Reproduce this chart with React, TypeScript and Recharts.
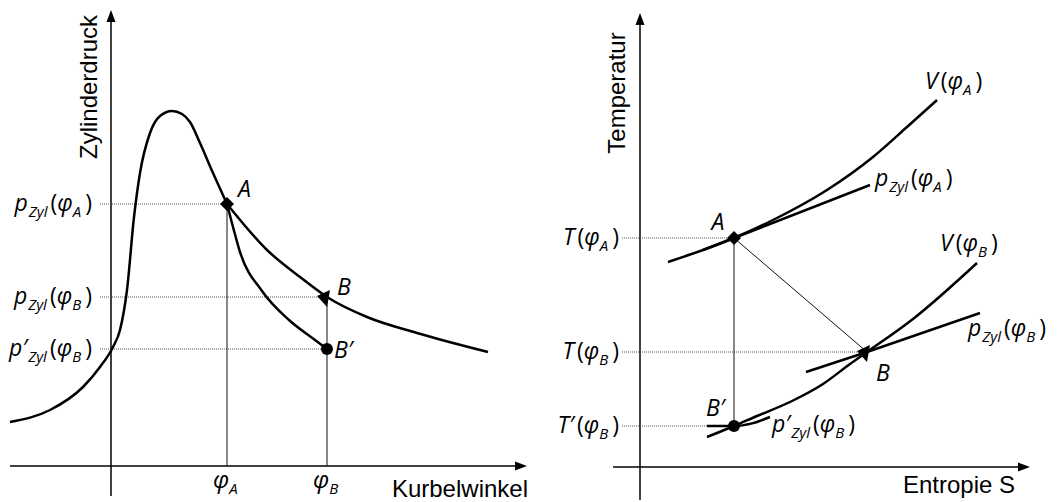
import React from "react";
import { ComposedChart, Line, XAxis, YAxis, ReferenceLine, ReferenceDot } from "recharts";

// Linkes Diagramm: Zylinderdruck über Kurbelwinkel (°KW / bar, schematisch)
const phiA = 29;
const phiB = 54;
const pA = 65.5;
const pB = 42.25;
const pB2 = 29.25;

// Verdichtung + Verbrennung bis Punkt A
const druckBisA: [number, number][] = [
  [-25.25, 11], [-15.25, 14], [-7, 19.75], [-2.75, 24.75], [0.5, 29.75], [2.25, 34],
  [4, 44], [5.75, 62.25], [7.25, 73.25], [9.75, 83.25], [12.25, 87.5], [15.25, 88.75],
  [17.75, 88], [19.75, 86], [22.25, 80.75], [25.5, 73.25], [phiA, pA],
];
// reale Expansion A -> B
const expansionAB: [number, number][] = [
  [phiA, pA], [39, 54], [47.25, 47.25], [phiB, pB], [64, 37.25], [76.5, 33.25], [94.25, 28.5],
];
// isentrope Expansion A -> B'
const isentropeAB2: [number, number][] = [
  [phiA, pA], [30.5, 59.75], [32.25, 53.5], [37.75, 43.75], [44.5, 36.5], [51, 31.5], [phiB, pB2],
];

// Rechtes Diagramm: T-S-Diagramm (schematisch)
const sA = 23.5, tA = 57.25;
const sB = 56.75, tB = 28.75;
const sB2 = 23.5, tB2 = 10.25;

const isochoreA: [number, number][] = [
  [7, 51.25], [15.75, 54.25], [sA, tA], [33.25, 61.75], [46.75, 69.25], [58.25, 77.5], [66.75, 85], [74.25, 91.75],
];
const isobareA: [number, number][] = [[15.75, 54.25], [sA, tA], [57.5, 70.5]];
const isochoreB: [number, number][] = [
  [16.75, 7.5], [sB2, tB2], [29.25, 12.75], [37.5, 16.25], [45.75, 20.75], [52.5, 25.75], [sB, tB], [68.25, 37], [84.25, 51],
];
const isobareB: [number, number][] = [[41.5, 23.75], [sB, tB], [85, 38.5]];
const isobareB2: [number, number][] = [[16.75, 10.25], [sB2, tB2], [28, 10.9], [32.5, 12.5]];

const pts = (arr: [number, number][]) => arr.map(([x, y]) => ({ x, y }));

const MATH = "'Open Sans', 'DejaVu Sans', sans-serif";
const PLAIN = "'Liberation Sans', Arial, sans-serif";

type Seg = { t: string; dx?: number; dy?: number; size?: number; upright?: boolean };

// Formelzeichen wie p_Zyl(φ_A), T(φ_B), V(φ_A)
function Sym(props: { x: number; y: number; head: string; idx: string; sub?: string; prime?: boolean; anchor?: "start" | "end" }) {
  const { x, y, head, idx, sub, prime, anchor = "start" } = props;
  const segs: Seg[] = [{ t: head }];
  if (prime) segs.push({ t: "\u2032", dx: 0 });
  if (sub) segs.push({ t: sub, size: 15, dx: 1, dy: 6 });
  segs.push({ t: "(", upright: true, dx: 3, dy: sub ? -6 : 0 });
  segs.push({ t: "\u03c6" });
  segs.push({ t: idx, size: 15, dy: 6 });
  segs.push({ t: ")", upright: true, dx: 4, dy: -6 });
  return (
    <text x={x} y={y} textAnchor={anchor} fontFamily={MATH} fontSize={23} fontStyle="italic" fill="#000">
      {segs.map((s, i) => (
        <tspan key={i} dx={s.dx} dy={s.dy} fontSize={s.size} fontStyle={s.upright ? "normal" : "italic"}>
          {s.t}
        </tspan>
      ))}
    </text>
  );
}

function Letter(props: { x: number; y: number; t: string; anchor?: "start" | "middle" }) {
  return (
    <text x={props.x} y={props.y} textAnchor={props.anchor ?? "start"} fontFamily={MATH} fontSize={23} fontStyle="italic" fill="#000">
      {props.t}
    </text>
  );
}

function Title(props: { x: number; y: number; t: string; rotate?: boolean; anchor?: "start" | "middle" | "end" }) {
  return (
    <text
      x={props.x}
      y={props.y}
      textAnchor={props.anchor ?? "middle"}
      transform={props.rotate ? `rotate(-90 ${props.x} ${props.y})` : undefined}
      fontFamily={PLAIN}
      fontSize={24}
      fill="#000"
    >
      {props.t}
    </text>
  );
}

// Anker an einer Datenkoordinate, gezeichnet wird relativ zur Pixelposition
const pin = (key: string, x: number, y: number, draw: (cx: number, cy: number) => React.ReactElement) => (
  <ReferenceDot key={key} x={x} y={y} r={0} ifOverflow="visible" shape={(p: any) => draw(p.cx, p.cy)} />
);

const arrowRight = (cx: number, cy: number) => (
  <polygon points={`${cx},${cy} ${cx - 12},${cy - 4.5} ${cx - 12},${cy + 4.5}`} fill="#000" />
);
const arrowUp = (cx: number, cy: number) => (
  <polygon points={`${cx},${cy} ${cx - 4.5},${cy + 12} ${cx + 4.5},${cy + 12}`} fill="#000" />
);
const diamond = (cx: number, cy: number) => (
  <polygon points={`${cx},${cy - 7} ${cx + 7},${cy} ${cx},${cy + 7} ${cx - 7},${cy}`} fill="#000" />
);
const triangle = (cx: number, cy: number) => (
  <polygon points={`${cx - 10},${cy - 1} ${cx + 3},${cy - 7} ${cx},${cy + 10}`} fill="#000" />
);
const dot = (cx: number, cy: number) => <circle cx={cx} cy={cy} r={6} fill="#000" />;

const curve = { stroke: "#000", strokeWidth: 2.5, dot: false, activeDot: false, isAnimationActive: false } as const;
const axisLine = { stroke: "#000", strokeWidth: 1.5, ifOverflow: "visible" } as const;
const thin = { stroke: "#111", strokeWidth: 1, ifOverflow: "visible" } as const;
const dotted = { stroke: "#555", strokeWidth: 1, strokeDasharray: "1 1", ifOverflow: "visible" } as const;
const margin = { top: 0, right: 0, bottom: 0, left: 0 };

function DruckVerlauf() {
  return (
    <ComposedChart width={532} height={502} margin={margin}>
      <XAxis type="number" dataKey="x" domain={[-27.75, 105.25]} hide allowDataOverflow />
      <YAxis type="number" dataKey="y" domain={[-9, 116.5]} hide allowDataOverflow />

      <ReferenceLine segment={[{ x: -25.25, y: 0 }, { x: 103, y: 0 }]} {...axisLine} />
      <ReferenceLine segment={[{ x: 0, y: -7.5 }, { x: 0, y: 112 }]} {...axisLine} />

      <ReferenceLine segment={[{ x: -2.75, y: pA }, { x: phiA, y: pA }]} {...dotted} />
      <ReferenceLine segment={[{ x: -2.75, y: pB }, { x: phiB, y: pB }]} {...dotted} />
      <ReferenceLine segment={[{ x: -2.75, y: pB2 }, { x: phiB, y: pB2 }]} {...dotted} />
      <ReferenceLine segment={[{ x: phiA, y: pA }, { x: phiA, y: 0 }]} {...thin} />
      <ReferenceLine segment={[{ x: phiB, y: pB }, { x: phiB, y: 0 }]} {...thin} />

      <Line data={pts(druckBisA)} dataKey="y" type="monotone" {...curve} />
      <Line data={pts(expansionAB)} dataKey="y" type="monotone" {...curve} />
      <Line data={pts(isentropeAB2)} dataKey="y" type="monotone" {...curve} />

      {pin("ax", 104, 0, arrowRight)}
      {pin("ay", 0, 114, arrowUp)}
      {pin("mA", phiA, pA, diamond)}
      {pin("mB", phiB, pB, triangle)}
      {pin("mB2", phiB, pB2, dot)}

      {pin("lA", phiA, pA, (cx, cy) => <Letter x={cx + 11} y={cy - 7} t="A" />)}
      {pin("lB", phiB, pB, (cx, cy) => <Letter x={cx + 10} y={cy - 2} t="B" />)}
      {pin("lB2", phiB, pB2, (cx, cy) => <Letter x={cx + 7} y={cy + 9} t={"B\u2032"} />)}

      {pin("tA", -4.75, pA, (cx, cy) => <Sym x={cx} y={cy + 7} head="p" sub="Zyl" idx="A" anchor="end" />)}
      {pin("tB", -4.75, pB, (cx, cy) => <Sym x={cx} y={cy + 7} head="p" sub="Zyl" idx="B" anchor="end" />)}
      {pin("tB2", -4.75, pB2, (cx, cy) => <Sym x={cx} y={cy + 7} head="p" prime sub="Zyl" idx="B" anchor="end" />)}

      {pin("phiA", phiA, 0, (cx, cy) => (
        <text x={cx - 14} y={cy + 22} fontFamily={MATH} fontSize={24} fontStyle="italic">
          <tspan>{"\u03c6"}</tspan>
          <tspan dy={6} fontSize={15}>A</tspan>
        </text>
      ))}
      {pin("phiB", phiB, 0, (cx, cy) => (
        <text x={cx - 14} y={cy + 22} fontFamily={MATH} fontSize={24} fontStyle="italic">
          <tspan>{"\u03c6"}</tspan>
          <tspan dy={6} fontSize={15}>B</tspan>
        </text>
      ))}

      {pin("xt", 104, 0, (cx, cy) => <Title x={cx + 1} y={cy + 31} t="Kurbelwinkel" anchor="end" />)}
      {pin("yt", 0, 114, (cx, cy) => <Title x={cx - 14} y={cy + 77} t="Zylinderdruck" rotate />)}
    </ComposedChart>
  );
}

function TSDiagramm() {
  return (
    <ComposedChart width={532} height={502} margin={margin}>
      <XAxis type="number" dataKey="x" domain={[-27, 106]} hide allowDataOverflow />
      <YAxis type="number" dataKey="y" domain={[-8.75, 116.75]} hide allowDataOverflow />

      <ReferenceLine segment={[{ x: -6.75, y: 0 }, { x: 96.5, y: 0 }]} {...axisLine} />
      <ReferenceLine segment={[{ x: 0, y: -8.25 }, { x: 0, y: 111.5 }]} {...axisLine} />

      <ReferenceLine segment={[{ x: -4.5, y: tA }, { x: sA, y: tA }]} {...dotted} />
      <ReferenceLine segment={[{ x: -4.5, y: tB }, { x: sB, y: tB }]} {...dotted} />
      <ReferenceLine segment={[{ x: -4.5, y: tB2 }, { x: sB2, y: tB2 }]} {...dotted} />
      <ReferenceLine segment={[{ x: sA, y: tA }, { x: sB2, y: tB2 }]} {...thin} />
      <ReferenceLine segment={[{ x: sA, y: tA }, { x: sB, y: tB }]} {...thin} />

      <Line data={pts(isochoreA)} dataKey="y" type="monotone" {...curve} />
      <Line data={pts(isobareA)} dataKey="y" type="linear" {...curve} />
      <Line data={pts(isochoreB)} dataKey="y" type="monotone" {...curve} />
      <Line data={pts(isobareB)} dataKey="y" type="linear" {...curve} />
      <Line data={pts(isobareB2)} dataKey="y" type="monotone" {...curve} />

      {pin("ax", 97.5, 0, arrowRight)}
      {pin("ay", 0, 113.5, arrowUp)}
      {pin("mA", sA, tA, diamond)}
      {pin("mB", sB, tB, triangle)}
      {pin("mB2", sB2, tB2, dot)}

      {pin("lA", sA, tA, (cx, cy) => <Letter x={cx - 16} y={cy - 8} t="A" anchor="middle" />)}
      {pin("lB", sB, tB, (cx, cy) => <Letter x={cx + 16} y={cy + 29} t="B" anchor="middle" />)}
      {pin("lB2", sB2, tB2, (cx, cy) => <Letter x={cx - 28} y={cy - 10} t={"B\u2032"} />)}

      {pin("tA", -5.25, tA, (cx, cy) => <Sym x={cx} y={cy + 7} head="T" idx="A" anchor="end" />)}
      {pin("tB", -5.25, tB, (cx, cy) => <Sym x={cx} y={cy + 7} head="T" idx="B" anchor="end" />)}
      {pin("tB2", -5.25, tB2, (cx, cy) => <Sym x={cx} y={cy + 7} head="T" prime idx="B" anchor="end" />)}

      {pin("vA", 74.25, 91.75, (cx, cy) => <Sym x={cx - 12} y={cy - 11} head="V" idx="A" />)}
      {pin("pA", 57.5, 70.5, (cx, cy) => <Sym x={cx + 5} y={cy + 1} head="p" sub="Zyl" idx="A" />)}
      {pin("vB", 84.25, 51, (cx, cy) => <Sym x={cx - 37} y={cy - 12} head="V" idx="B" />)}
      {pin("pB", 85, 38.5, (cx, cy) => <Sym x={cx - 12} y={cy + 23} head="p" sub="Zyl" idx="B" />)}
      {pin("pB2", sB2, tB2, (cx, cy) => <Sym x={cx + 38} y={cy + 6} head="p" prime sub="Zyl" idx="B" />)}

      {pin("xt", 97.5, 0, (cx, cy) => <Title x={cx - 15} y={cy + 26} t="Entropie S" anchor="end" />)}
      {pin("yt", 0, 113.5, (cx, cy) => <Title x={cx - 15} y={cy + 80} t="Temperatur" rotate />)}
    </ComposedChart>
  );
}

export default function App() {
  return (
    <div style={{ position: "absolute", left: 0, top: 0, width: 1064, height: 502, display: "flex", background: "#fff" }}>
      <DruckVerlauf />
      <TSDiagramm />
    </div>
  );
}
